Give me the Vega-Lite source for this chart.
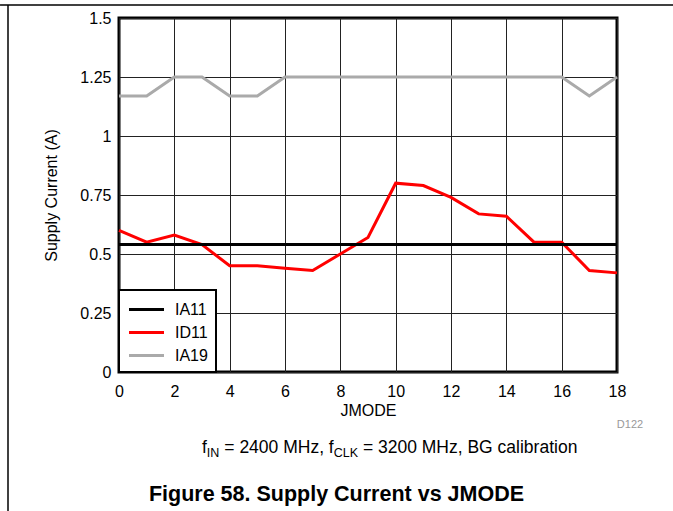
{
  "$schema": "https://vega.github.io/schema/vega-lite/v6.json",
  "width": 498,
  "height": 354,
  "autosize": "none",
  "padding": {"left": 119, "top": 18, "right": 56, "bottom": 139},
  "background": "white",
  "config": {
    "font": "Liberation Sans",
    "view": {"stroke": "black", "strokeWidth": 3},
    "axis": {
      "labelFont": "Liberation Sans",
      "labelFontSize": 16,
      "labelColor": "black",
      "titleFont": "Liberation Sans",
      "titleFontSize": 16,
      "titleFontWeight": "normal",
      "titleColor": "black",
      "ticks": false,
      "domain": false,
      "gridColor": "#222222",
      "gridWidth": 1,
      "gridOpacity": 1
    },
    "legend": {
      "orient": "bottom-left",
      "offset": 0,
      "strokeColor": "black",
      "strokeWidth": 2,
      "fillColor": "white",
      "padding": 8,
      "symbolType": "M-1.75,0L1.75,0",
      "symbolSize": 400,
      "symbolOffset": 8,
      "symbolStrokeWidth": 3,
      "labelFontSize": 16,
      "labelFont": "Liberation Sans",
      "labelColor": "black",
      "rowPadding": 3,
      "labelOffset": 17,
      "cornerRadius": 0
    }
  },
  "layer": [
    {
      "data": {
        "values": [
          {"jmode": 0, "series": "IA19", "current": 1.17},
          {"jmode": 1, "series": "IA19", "current": 1.17},
          {"jmode": 2, "series": "IA19", "current": 1.25},
          {"jmode": 3, "series": "IA19", "current": 1.25},
          {"jmode": 4, "series": "IA19", "current": 1.17},
          {"jmode": 5, "series": "IA19", "current": 1.17},
          {"jmode": 6, "series": "IA19", "current": 1.25},
          {"jmode": 7, "series": "IA19", "current": 1.25},
          {"jmode": 8, "series": "IA19", "current": 1.25},
          {"jmode": 9, "series": "IA19", "current": 1.25},
          {"jmode": 10, "series": "IA19", "current": 1.25},
          {"jmode": 11, "series": "IA19", "current": 1.25},
          {"jmode": 12, "series": "IA19", "current": 1.25},
          {"jmode": 13, "series": "IA19", "current": 1.25},
          {"jmode": 14, "series": "IA19", "current": 1.25},
          {"jmode": 15, "series": "IA19", "current": 1.25},
          {"jmode": 16, "series": "IA19", "current": 1.25},
          {"jmode": 17, "series": "IA19", "current": 1.17},
          {"jmode": 18, "series": "IA19", "current": 1.25},
          {"jmode": 0, "series": "ID11", "current": 0.60},
          {"jmode": 1, "series": "ID11", "current": 0.55},
          {"jmode": 2, "series": "ID11", "current": 0.58},
          {"jmode": 3, "series": "ID11", "current": 0.54},
          {"jmode": 4, "series": "ID11", "current": 0.45},
          {"jmode": 5, "series": "ID11", "current": 0.45},
          {"jmode": 6, "series": "ID11", "current": 0.44},
          {"jmode": 7, "series": "ID11", "current": 0.43},
          {"jmode": 8, "series": "ID11", "current": 0.50},
          {"jmode": 9, "series": "ID11", "current": 0.57},
          {"jmode": 10, "series": "ID11", "current": 0.80},
          {"jmode": 11, "series": "ID11", "current": 0.79},
          {"jmode": 12, "series": "ID11", "current": 0.74},
          {"jmode": 13, "series": "ID11", "current": 0.67},
          {"jmode": 14, "series": "ID11", "current": 0.66},
          {"jmode": 15, "series": "ID11", "current": 0.55},
          {"jmode": 16, "series": "ID11", "current": 0.55},
          {"jmode": 17, "series": "ID11", "current": 0.43},
          {"jmode": 18, "series": "ID11", "current": 0.42},
          {"jmode": 0, "series": "IA11", "current": 0.54},
          {"jmode": 1, "series": "IA11", "current": 0.54},
          {"jmode": 2, "series": "IA11", "current": 0.54},
          {"jmode": 3, "series": "IA11", "current": 0.54},
          {"jmode": 4, "series": "IA11", "current": 0.54},
          {"jmode": 5, "series": "IA11", "current": 0.54},
          {"jmode": 6, "series": "IA11", "current": 0.54},
          {"jmode": 7, "series": "IA11", "current": 0.54},
          {"jmode": 8, "series": "IA11", "current": 0.54},
          {"jmode": 9, "series": "IA11", "current": 0.54},
          {"jmode": 10, "series": "IA11", "current": 0.54},
          {"jmode": 11, "series": "IA11", "current": 0.54},
          {"jmode": 12, "series": "IA11", "current": 0.54},
          {"jmode": 13, "series": "IA11", "current": 0.54},
          {"jmode": 14, "series": "IA11", "current": 0.54},
          {"jmode": 15, "series": "IA11", "current": 0.54},
          {"jmode": 16, "series": "IA11", "current": 0.54},
          {"jmode": 17, "series": "IA11", "current": 0.54},
          {"jmode": 18, "series": "IA11", "current": 0.54}
        ]
      },
      "mark": {"type": "line", "strokeWidth": 3},
      "encoding": {
        "x": {
          "field": "jmode",
          "type": "quantitative",
          "scale": {"domain": [0, 18], "nice": false, "zero": false},
          "axis": {
            "title": "JMODE",
            "values": [0, 2, 4, 6, 8, 10, 12, 14, 16, 18],
            "labelFontSize": 16,
            "titleFontSize": 16,
            "labelColor": "black",
            "titleColor": "black",
            "labelPadding": 11,
            "titlePadding": 3,
            "labelFlush": false
          }
        },
        "y": {
          "field": "current",
          "type": "quantitative",
          "scale": {"domain": [0, 1.5], "nice": false},
          "axis": {
            "title": "Supply Current (A)",
            "values": [0, 0.25, 0.5, 0.75, 1, 1.25, 1.5],
            "labelExpr": "'' + datum.value",
            "labelFontSize": 16,
            "titleFontSize": 16,
            "labelColor": "black",
            "titleColor": "black",
            "labelPadding": 8,
            "titlePadding": 20
          }
        },
        "color": {
          "field": "series",
          "type": "nominal",
          "scale": {"domain": ["IA11", "ID11", "IA19"], "range": ["#000000", "#ff0000", "#aaaaaa"]},
          "legend": {"title": null}
        }
      }
    },
    {
      "data": {"values": [{}]},
      "mark": {"type": "text", "text": "D122", "fontSize": 11, "color": "#999999", "align": "center", "baseline": "middle"},
      "encoding": {"x": {"datum": 18.47}, "y": {"datum": -0.2246}}
    },
    {
      "data": {"values": [{}]},
      "mark": {"type": "text", "text": "f", "fontSize": 17.5, "color": "black", "align": "left", "baseline": "alphabetic"},
      "encoding": {"x": {"datum": 3.0}, "y": {"datum": -0.343}}
    },
    {
      "data": {"values": [{}]},
      "mark": {"type": "text", "text": "IN", "fontSize": 12.5, "color": "black", "align": "left", "baseline": "alphabetic"},
      "encoding": {"x": {"datum": 3.173}, "y": {"datum": -0.36}}
    },
    {
      "data": {"values": [{}]},
      "mark": {"type": "text", "text": "= 2400 MHz, f", "fontSize": 17.5, "color": "black", "align": "left", "baseline": "alphabetic"},
      "encoding": {"x": {"datum": 3.806}, "y": {"datum": -0.343}}
    },
    {
      "data": {"values": [{}]},
      "mark": {"type": "text", "text": "CLK", "fontSize": 12.5, "color": "black", "align": "left", "baseline": "alphabetic"},
      "encoding": {"x": {"datum": 7.76}, "y": {"datum": -0.36}}
    },
    {
      "data": {"values": [{}]},
      "mark": {"type": "text", "text": "= 3200 MHz, BG calibration", "fontSize": 17.5, "color": "black", "align": "left", "baseline": "alphabetic"},
      "encoding": {"x": {"datum": 8.815}, "y": {"datum": -0.343}}
    },
    {
      "data": {"values": [{}]},
      "mark": {"type": "text", "text": "Figure 58. Supply Current vs JMODE", "fontSize": 21.5, "fontWeight": "bold", "color": "black", "align": "center", "baseline": "alphabetic"},
      "encoding": {"x": {"datum": 7.86}, "y": {"datum": -0.547}}
    },
    {
      "data": {"values": [{}]},
      "mark": {"type": "rule", "color": "black", "strokeWidth": 1.5},
      "encoding": {"x": {"datum": -4.3}, "x2": {"datum": 20.1}, "y": {"datum": 1.555}}
    },
    {
      "data": {"values": [{}]},
      "mark": {"type": "rule", "color": "black", "strokeWidth": 1.5},
      "encoding": {"x": {"datum": -4.012}, "y": {"datum": 1.555}, "y2": {"datum": -0.6}}
    }
  ]
}
